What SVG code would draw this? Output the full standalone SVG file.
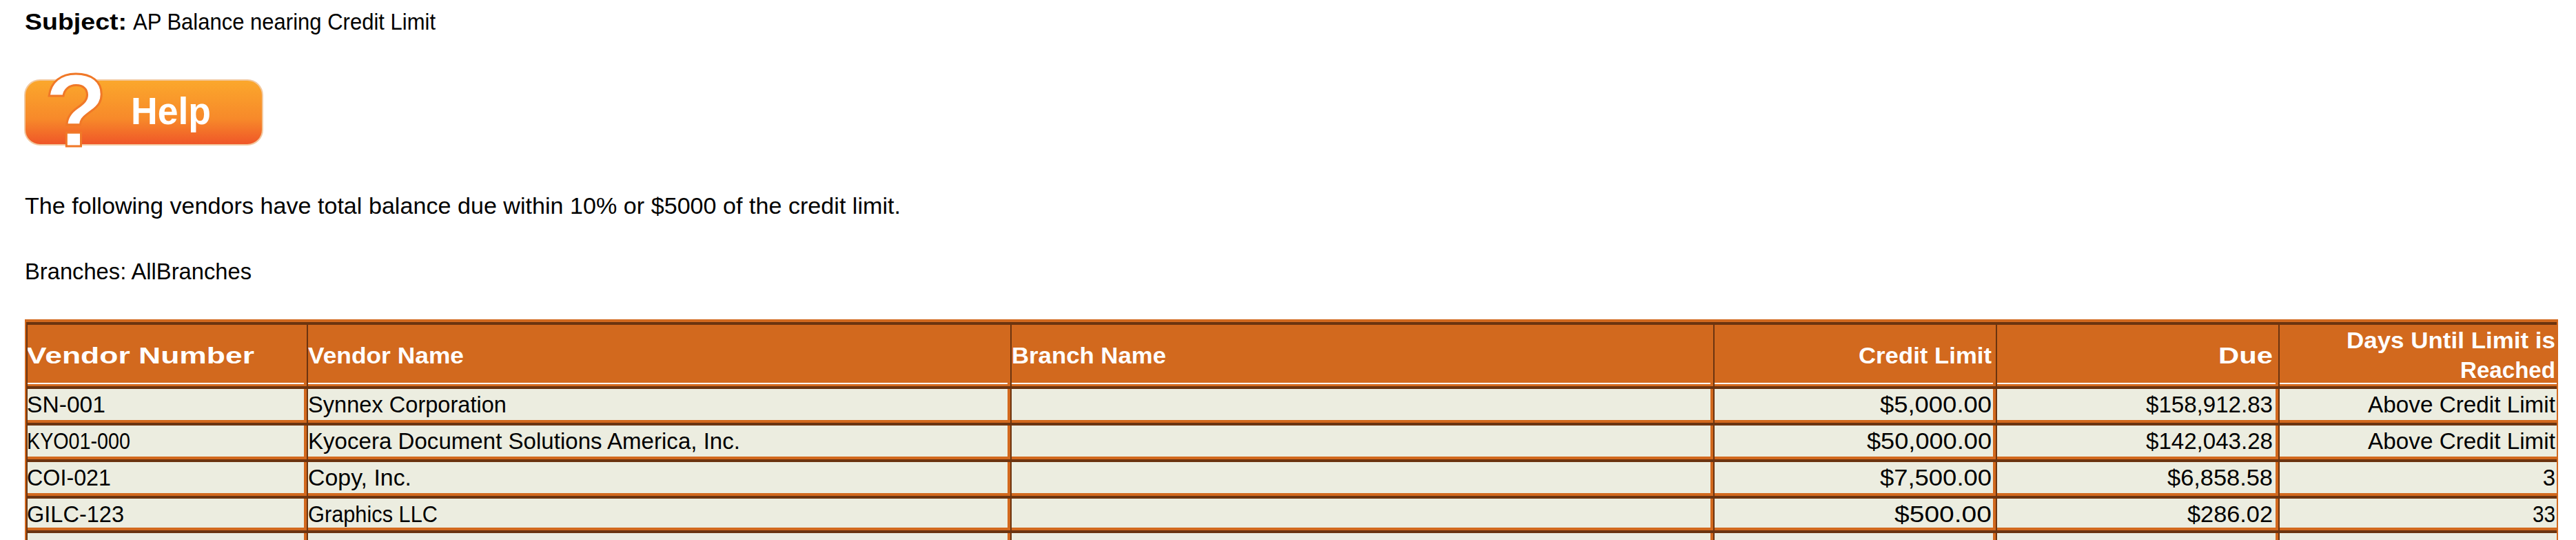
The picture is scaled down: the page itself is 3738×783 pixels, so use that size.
<svg xmlns="http://www.w3.org/2000/svg" width="3738" height="783" viewBox="0 0 3738 783">
<defs>
<linearGradient id="hg" x1="0" y1="0" x2="0" y2="1">
<stop offset="0" stop-color="#FBA82C"/><stop offset="0.6" stop-color="#F7892A"/><stop offset="1" stop-color="#EF5528"/>
</linearGradient>
</defs>
<style>
text{font-family:"Liberation Sans",Arial,sans-serif;}
.t{font-size:34px;fill:#000;}
.h{font-size:34px;fill:#fff;font-weight:bold;}
.d{font-size:33px;fill:#000;}
.r{text-anchor:end;}
.hc{fill:#D2691E;}
.dc{fill:#ECEDE0;}
.dk{fill:#6B3410;}
</style>
<rect width="3738" height="783" fill="#fff"/>
<g id="subject">
<text x="36" y="43" class="t"><tspan font-weight="bold" textLength="148" lengthAdjust="spacingAndGlyphs">Subject:</tspan><tspan x="193" textLength="439" lengthAdjust="spacingAndGlyphs">AP Balance nearing Credit Limit</tspan></text>
</g>
<g id="help">
<rect x="36" y="116" width="345" height="94" rx="22" fill="url(#hg)" stroke="#F2C9A0" stroke-width="2"/>
<text x="110" y="212" font-size="150" font-weight="bold" fill="#fff" stroke="#F07828" stroke-width="3" text-anchor="middle">?</text>
<text x="190" y="180" font-size="56" font-weight="bold" fill="#fff" textLength="116" lengthAdjust="spacingAndGlyphs">Help</text>
</g>
<text x="36" y="310" class="t" textLength="1271" lengthAdjust="spacingAndGlyphs">The following vendors have total balance due within 10% or $5000 of the credit limit.</text>
<text x="36" y="405" class="t" textLength="329" lengthAdjust="spacingAndGlyphs">Branches: AllBranches</text>
<g id="table">
<rect x="36" y="463" width="3676" height="320" fill="#D2691E"/>
<g id="header">
<rect x="38" y="467" width="403" height="91" class="hc"/><rect x="445" y="467" width="1017" height="91" class="hc"/><rect x="1466" y="467" width="1016" height="91" class="hc"/><rect x="2486" y="467" width="406" height="91" class="hc"/><rect x="2896" y="467" width="406" height="91" class="hc"/><rect x="3306" y="467" width="404" height="91" class="hc"/>
<g class="dk"><rect x="38" y="467" width="3672" height="4"/></g>
<g fill="#fff"><rect x="38" y="555" width="403" height="2"/><rect x="445" y="555" width="1017" height="2"/><rect x="1466" y="555" width="1016" height="2"/><rect x="2486" y="555" width="406" height="2"/><rect x="2896" y="555" width="406" height="2"/><rect x="3306" y="555" width="404" height="2"/></g>
<text x="38" y="527" class="h" textLength="331" lengthAdjust="spacingAndGlyphs">Vendor Number</text>
<text x="447" y="527" class="h" textLength="226" lengthAdjust="spacingAndGlyphs">Vendor Name</text>
<text x="1468" y="527" class="h" textLength="224" lengthAdjust="spacingAndGlyphs">Branch Name</text>
<text x="2890" y="527" class="h r" textLength="193" lengthAdjust="spacingAndGlyphs">Credit Limit</text>
<text x="3298" y="527" class="h r" textLength="79" lengthAdjust="spacingAndGlyphs">Due</text>
<text x="3708" y="505" class="h r" textLength="303" lengthAdjust="spacingAndGlyphs">Days Until Limit is</text>
<text x="3708" y="548" class="h r" textLength="138" lengthAdjust="spacingAndGlyphs">Reached</text>
</g>
<g id="rows">
<g id="row1">
<rect x="38" y="560" width="403" height="49" class="dc"/><rect x="445" y="560" width="1017" height="49" class="dc"/><rect x="1466" y="560" width="1016" height="49" class="dc"/><rect x="2486" y="560" width="406" height="49" class="dc"/><rect x="2896" y="560" width="406" height="49" class="dc"/><rect x="3306" y="560" width="404" height="49" class="dc"/>
<rect x="38" y="560" width="3672" height="4" class="dk"/>
<text x="39" y="598" class="d" textLength="114" lengthAdjust="spacingAndGlyphs">SN-001</text>
<text x="447" y="598" class="d" textLength="288" lengthAdjust="spacingAndGlyphs">Synnex Corporation</text>
<text x="2890" y="598" class="d r" textLength="162" lengthAdjust="spacingAndGlyphs">$5,000.00</text>
<text x="3298" y="598" class="d r" textLength="184" lengthAdjust="spacingAndGlyphs">$158,912.83</text>
<text x="3708" y="598" class="d r" textLength="272" lengthAdjust="spacingAndGlyphs">Above Credit Limit</text>
</g>
<g id="row2">
<rect x="38" y="613" width="403" height="49" class="dc"/><rect x="445" y="613" width="1017" height="49" class="dc"/><rect x="1466" y="613" width="1016" height="49" class="dc"/><rect x="2486" y="613" width="406" height="49" class="dc"/><rect x="2896" y="613" width="406" height="49" class="dc"/><rect x="3306" y="613" width="404" height="49" class="dc"/>
<rect x="38" y="613" width="3672" height="4" class="dk"/>
<text x="39" y="651" class="d" textLength="150" lengthAdjust="spacingAndGlyphs">KYO01-000</text>
<text x="447" y="651" class="d" textLength="627" lengthAdjust="spacingAndGlyphs">Kyocera Document Solutions America, Inc.</text>
<text x="2890" y="651" class="d r" textLength="181" lengthAdjust="spacingAndGlyphs">$50,000.00</text>
<text x="3298" y="651" class="d r" textLength="184" lengthAdjust="spacingAndGlyphs">$142,043.28</text>
<text x="3708" y="651" class="d r" textLength="272" lengthAdjust="spacingAndGlyphs">Above Credit Limit</text>
</g>
<g id="row3">
<rect x="38" y="666" width="403" height="49" class="dc"/><rect x="445" y="666" width="1017" height="49" class="dc"/><rect x="1466" y="666" width="1016" height="49" class="dc"/><rect x="2486" y="666" width="406" height="49" class="dc"/><rect x="2896" y="666" width="406" height="49" class="dc"/><rect x="3306" y="666" width="404" height="49" class="dc"/>
<rect x="38" y="666" width="3672" height="4" class="dk"/>
<text x="39" y="704" class="d" textLength="122" lengthAdjust="spacingAndGlyphs">COI-021</text>
<text x="447" y="704" class="d" textLength="150" lengthAdjust="spacingAndGlyphs">Copy, Inc.</text>
<text x="2890" y="704" class="d r" textLength="162" lengthAdjust="spacingAndGlyphs">$7,500.00</text>
<text x="3298" y="704" class="d r" textLength="153" lengthAdjust="spacingAndGlyphs">$6,858.58</text>
<text x="3708" y="704" class="d r">3</text>
</g>
<g id="row4">
<rect x="38" y="719" width="403" height="46" class="dc"/><rect x="445" y="719" width="1017" height="46" class="dc"/><rect x="1466" y="719" width="1016" height="46" class="dc"/><rect x="2486" y="719" width="406" height="46" class="dc"/><rect x="2896" y="719" width="406" height="46" class="dc"/><rect x="3306" y="719" width="404" height="46" class="dc"/>
<rect x="38" y="719" width="3672" height="4" class="dk"/>
<text x="39" y="757" class="d" textLength="141" lengthAdjust="spacingAndGlyphs">GILC-123</text>
<text x="447" y="757" class="d" textLength="188" lengthAdjust="spacingAndGlyphs">Graphics LLC</text>
<text x="2890" y="757" class="d r" textLength="141" lengthAdjust="spacingAndGlyphs">$500.00</text>
<text x="3298" y="757" class="d r" textLength="124" lengthAdjust="spacingAndGlyphs">$286.02</text>
<text x="3708" y="757" class="d r" textLength="33" lengthAdjust="spacingAndGlyphs">33</text>
</g>
<g id="row5">
<rect x="38" y="769" width="403" height="14" class="dc"/><rect x="445" y="769" width="1017" height="14" class="dc"/><rect x="1466" y="769" width="1016" height="14" class="dc"/><rect x="2486" y="769" width="406" height="14" class="dc"/><rect x="2896" y="769" width="406" height="14" class="dc"/><rect x="3306" y="769" width="404" height="14" class="dc"/>
<rect x="38" y="769" width="3672" height="4" class="dk"/>
</g>
</g>
<g class="dk">
<rect x="38" y="467" width="2" height="316"/><rect x="445" y="467" width="2" height="316"/><rect x="1466" y="467" width="2" height="316"/><rect x="2486" y="467" width="2" height="316"/><rect x="2896" y="467" width="2" height="316"/><rect x="3306" y="467" width="2" height="316"/>
</g>
</g>
</svg>
